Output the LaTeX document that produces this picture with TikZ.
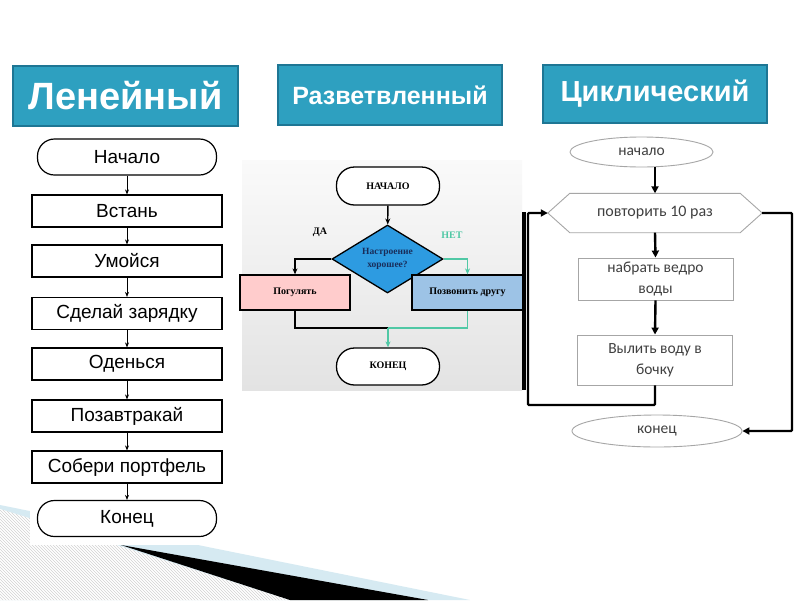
\documentclass[tikz,border=0pt]{standalone}
\usepackage{fontspec}
\setmainfont{Liberation Sans}
\newfontfamily\arialf{Liberation Sans}
\newfontfamily\timesf{Liberation Serif}
\newfontfamily\calib{Carlito}
\usetikzlibrary{shapes.geometric,shapes.misc,arrows.meta,patterns}
\definecolor{hdr}{RGB}{46,160,192}
\definecolor{hdrdark}{RGB}{30,118,148}
\definecolor{dia}{RGB}{45,155,225}
\definecolor{navy}{RGB}{25,45,90}
\definecolor{pinkb}{RGB}{255,204,204}
\definecolor{blueb}{RGB}{157,195,230}
\definecolor{tealg}{RGB}{80,200,165}
\definecolor{lblue}{RGB}{214,234,242}
\definecolor{txtg}{RGB}{64,64,64}
\tikzset{
  hdrbox/.style={draw=hdrdark, line width=2pt, fill=hdr, text=white, inner sep=0pt},
  lstad/.style={draw, line width=1.2pt, rounded corners=17pt, minimum width=179pt, minimum height=36pt, inner sep=0pt, font=\arialf\fontsize{19}{22}\selectfont},
  lbox/.style={draw, line width=1.2pt, minimum width=190pt, minimum height=32pt, inner sep=0pt, font=\arialf\fontsize{19}{22}\selectfont},
  larr/.style={-{Stealth[length=5pt,width=4pt]}, line width=0.9pt},
  mstad/.style={draw, line width=1.3pt, fill=white, rounded corners=18pt, minimum width=103pt, minimum height=38pt, inner sep=0pt, font=\timesf\bfseries\fontsize{10}{12}\selectfont},
  mbox/.style={draw, line width=1.3pt, minimum width=110pt, minimum height=35pt, inner sep=0pt, font=\timesf\bfseries\fontsize{10}{12}\selectfont},
  marr/.style={-{Stealth[length=6pt,width=5pt]}, line width=1.4pt},
  rell/.style={draw=gray!70, line width=0.9pt, ellipse, inner sep=0pt, text=txtg, font=\calib\fontsize{15.5}{19}\selectfont},
  rbox/.style={draw=gray!70, line width=0.9pt, minimum width=155pt, inner sep=0pt, align=center, text=txtg, font=\calib\fontsize{15.5}{21}\selectfont},
  rarr/.style={-{Triangle[length=7pt,width=7pt]}, line width=2.4pt},
}
\begin{document}
\begin{tikzpicture}[x=1pt,y=-1pt]
\useasboundingbox (0,0) rectangle (800,600);
\fill[white] (0,0) rectangle (800,600);

% bottom decoration
\fill[lblue] (0,505) -- (470,600) -- (0,600) -- cycle;
\fill[white] (0,509) -- (123,547) -- (290,600) -- (0,600) -- cycle;
\fill[pattern=north west lines, pattern color=gray!35] (0,509) -- (123,547) -- (290,600) -- (0,600) -- cycle;
\fill[black] (121,545) -- (428,600) -- (290,600) -- cycle;
\fill[white] (30,132) rectangle (228,545);

% headers
\node[hdrbox, minimum width=225pt, minimum height=60pt, font=\arialf\bfseries\fontsize{38}{42}\selectfont] (h1) at (125.5,95.5) {Ленейный};
\node[hdrbox, minimum width=224pt, minimum height=60pt, font=\arialf\bfseries\fontsize{25}{29}\selectfont] (h2) at (390,95) {Разветвленный};
\node[hdrbox, minimum width=224pt, minimum height=58pt, font=\arialf\bfseries\fontsize{29}{34}\selectfont] (h3) at (655,94) {Циклический};

% left chart
\node[lstad] (l1) at (127,157) {Начало};
\node[lbox] (l2) at (127,211) {Встань};
\node[lbox] (l3) at (127,261) {Умойся};
\node[lbox] (l4) at (127,313.5) {Сделай зарядку};
\node[lbox] (l5) at (127,364) {Оденься};
\node[lbox] (l6) at (127,416) {Позавтракай};
\node[lbox] (l7) at (127,467) {Собери портфель};
\node[lstad] (l8) at (127,518.5) {Конец};
\foreach \a/\b in {l1/l2,l2/l3,l3/l4,l4/l5,l5/l6,l6/l7,l7/l8}
  \draw[larr] (\a) -- (\b);

% middle panel
\shade[top color=gray!4, bottom color=gray!22] (242,160) rectangle (522,390);
\fill[black] (522,212) rectangle (525.5,390);
\node[mstad] (m1) at (388,186) {НАЧАЛО};
\node[draw, line width=1.3pt, fill=dia, diamond, minimum width=111pt, minimum height=68pt, inner sep=0pt] (md) at (387.5,259) {};
\node[align=center, text=navy, font=\timesf\bfseries\fontsize{9.5}{13}\selectfont] (mdt) at (md) {Настроение\\хорошее?};
\node[mbox, fill=pinkb] (mp) at (295,292.5) {Погулять};
\node[mbox, fill=blueb, minimum width=111pt] (mz) at (467.5,292.5) {Позвонить другу};
\node[mstad, minimum height=37pt] (m2) at (388,366.5) {КОНЕЦ};
\node[font=\timesf\bfseries\fontsize{10}{12}\selectfont] (yes) at (320,232) {ДА};
\node[text=tealg, font=\timesf\bfseries\fontsize{10}{12}\selectfont] (no) at (452,235) {НЕТ};
\coordinate (mj) at (388,328);
\draw[marr] (m1) -- (md);
\draw[marr] (md.west) -| (mp.north);
\draw[marr, tealg] (md.east) -| (mz.north);
\draw[line width=1.4pt] (mp.south) |- (mj);
\draw[line width=1.4pt, tealg] (mz.south) |- (mj);
\draw[marr, tealg] (mj) -- (m2.north);

% right chart
\node[rell, minimum width=143pt, minimum height=30pt] (r1) at (641.5,152) {начало};
\node[minimum width=214pt, minimum height=39pt, inner sep=0pt, text=txtg, font=\calib\fontsize{16}{19}\selectfont] (r2) at (655,213) {повторить 10 раз};
\draw[draw=gray!70, line width=0.9pt] (r2.west) -- ([xshift=22pt]r2.north west) -- ([xshift=-22pt]r2.north east) -- (r2.east) -- ([xshift=-22pt]r2.south east) -- ([xshift=22pt]r2.south west) -- cycle;
\node[rbox, minimum height=42pt] (r3) at (655.5,279) {набрать ведро\\воды};
\node[rbox, minimum height=50pt] (r4) at (655,360) {Вылить воду в\\бочку};
\node[rell, minimum width=170pt, minimum height=32pt] (r5) at (657,431) {конец};
\coordinate (la) at (528,405);
\coordinate (lb) at (528,213);
\coordinate (ra) at (792,213);
\coordinate (rb) at (792,431);
\draw[rarr] (r2.north |- r1.south) -- (r2.north);
\draw[rarr] (r2.south) -- (r3.north);
\draw[rarr] (r3.south) -- (r4.north);
\draw[rarr, rounded corners=1pt] (r4.south) |- (la) -- (lb) -- (r2.west);
\draw[rarr, rounded corners=1pt] (r2.east) -- (ra) -- (rb) -- (r5.east);
\end{tikzpicture}
\end{document}
